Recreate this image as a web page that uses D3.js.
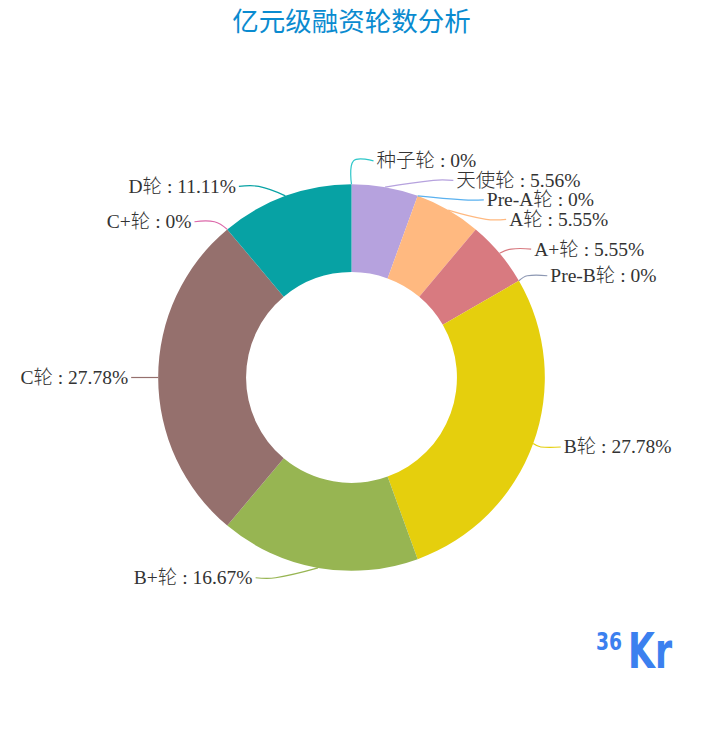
<!DOCTYPE html>
<html><head><meta charset="utf-8">
<script src="https://cdnjs.cloudflare.com/ajax/libs/d3/7.8.5/d3.min.js"></script>
<style>html,body{margin:0;padding:0;background:#fff;} svg{display:block;}</style>
</head><body>
<script>
// ---- data ----
const categories = ["种子轮","天使轮","Pre-A轮","A轮","A+轮","Pre-B轮","B轮","B+轮","C轮","C+轮","D轮"];
const percents = [0, 5.56, 0, 5.55, 5.55, 0, 27.78, 16.67, 27.78, 0, 11.11];
const colors = ['#2ec7c9','#b6a2de','#5ab1ef','#ffb980','#d87a80','#8d98b3','#e5cf0d','#97b552','#95706d','#dc69aa','#07a2a4'];
const titleText = "亿元级融资轮数分析";

// ---- layout ----
const W = 703, H = 755;
const cx = W / 2, cy = H / 2, half = Math.min(W, H) / 2;
const rIn = half * 0.30, rOut = half * 0.55;
const len1 = 10, len2 = 20, labelH = 19.5, fontSize = 19.5;

const svg = d3.select("body").append("svg").attr("width", W).attr("height", H);

svg.append("text")
  .attr("x", cx).attr("y", 19)
  .attr("text-anchor", "middle").attr("dominant-baseline", "central")
  .style("font-family", "'Noto Sans CJK SC', sans-serif")
  .style("font-size", "26.5px")
  .attr("fill", "#0a8bd0")
  .text(titleText);

const data = categories.map((c, i) => ({name: c, v: percents[i], color: colors[i]}));
const pie = d3.pie().sort(null).value(d => d.v).startAngle(0).endAngle(2 * Math.PI);
const arcs = pie(data);
const arcGen = d3.arc().innerRadius(rIn).outerRadius(rOut);

const g = svg.append("g");
g.selectAll("path.slice").data(arcs).join("path")
  .attr("class", "slice")
  .attr("transform", `translate(${cx},${cy})`)
  .attr("d", arcGen)
  .attr("fill", d => d.data.color);

// ---- label layout (echarts-like) ----
const layouts = arcs.map(a => {
  const mid = (a.startAngle + a.endAngle) / 2;
  const dx = Math.sin(mid), dy = -Math.cos(mid);
  const sign = dx < -1e-9 ? -1 : 1;
  const x0 = cx + rOut * dx, y0 = cy + rOut * dy;
  const x1 = cx + (rOut + len1) * dx, y1 = cy + (rOut + len1) * dy;
  const x2 = x1 + sign * len2;
  return {
    a, sign, x: x2 + sign * 5, y: y1, height: labelH, len: len1, len2: len2,
    linePoints: [[x0, y0], [x1, y1], [x2, y1]],
    text: a.data.name + " : " + a.data.v + "%"
  };
});

function adjustSingleSide(list, dir) {
  list.sort((a, b) => a.y - b.y);
  function shiftDown(start, end, delta) {
    for (let j = start; j < end; j++) {
      list[j].y += delta;
      if (j > start && j + 1 < end && list[j + 1].y > list[j].y + list[j].height) {
        shiftUp(j, delta / 2);
        return;
      }
    }
    shiftUp(end - 1, delta / 2);
  }
  function shiftUp(end, delta) {
    for (let j = end; j >= 0; j--) {
      list[j].y -= delta;
      if (j > 0 && list[j].y > list[j - 1].y + list[j - 1].height) break;
    }
  }
  function changeX(lst, isDown) {
    let last = isDown ? Number.MAX_VALUE : 0;
    for (let i = 0; i < lst.length; i++) {
      const deltaY = Math.abs(lst[i].y - cy);
      const L = lst[i].len, L2 = lst[i].len2;
      let deltaX = deltaY < rOut + L
        ? Math.sqrt((rOut + L + L2) * (rOut + L + L2) - deltaY * deltaY)
        : Math.abs(lst[i].x - cx);
      if (isDown && deltaX >= last) deltaX = last - 10;
      if (!isDown && deltaX <= last) deltaX = last + 10;
      lst[i].x = cx + deltaX * dir;
      last = deltaX;
    }
  }
  let lastY = 0;
  const n = list.length;
  for (let i = 0; i < n; i++) {
    const delta = list[i].y - lastY;
    if (delta < 0) shiftDown(i, n, -delta);
    lastY = list[i].y + list[i].height;
  }
  if (H - lastY < 0) shiftUp(n - 1, lastY - H);
  const up = [], down = [];
  list.forEach(l => (l.y >= cy ? down : up).push(l));
  changeX(up, false);
  changeX(down, true);
}
const leftList = layouts.filter(l => l.x < cx);
const rightList = layouts.filter(l => l.x >= cx);
adjustSingleSide(rightList, 1);
adjustSingleSide(leftList, -1);
layouts.forEach(l => {
  const lp = l.linePoints;
  const dist = lp[1][0] - lp[2][0];
  lp[2][0] = l.x < cx ? l.x + 3 : l.x - 3;
  lp[1][1] = lp[2][1] = l.y;
  lp[1][0] = lp[2][0] + dist;
});

// smooth polyline (zrender smoothBezier style)
function smoothPath(pts, smooth) {
  const p = d3.path();
  const cps = [];
  for (let i = 0; i < pts.length; i++) {
    if (i === 0 || i === pts.length - 1) { cps.push(pts[i].slice()); continue; }
    const prev = pts[i - 1], next = pts[i + 1], pt = pts[i];
    const v = [(next[0] - prev[0]) * smooth, (next[1] - prev[1]) * smooth];
    let d0 = Math.hypot(pt[0] - prev[0], pt[1] - prev[1]);
    let d1 = Math.hypot(pt[0] - next[0], pt[1] - next[1]);
    const s = d0 + d1;
    if (s !== 0) { d0 /= s; d1 /= s; }
    cps.push([pt[0] - v[0] * d0, pt[1] - v[1] * d0]);
    cps.push([pt[0] + v[0] * d1, pt[1] + v[1] * d1]);
  }
  p.moveTo(pts[0][0], pts[0][1]);
  for (let i = 0; i < pts.length - 1; i++) {
    const c1 = cps[2 * i], c2 = cps[2 * i + 1], q = pts[i + 1];
    p.bezierCurveTo(c1[0], c1[1], c2[0], c2[1], q[0], q[1]);
  }
  return p.toString();
}

g.selectAll("path.line").data(layouts).join("path")
  .attr("class", "line")
  .attr("d", d => smoothPath(d.linePoints, 0.4))
  .attr("fill", "none")
  .attr("stroke", d => d.a.data.color)
  .attr("stroke-width", 1.2);

g.selectAll("text.lbl").data(layouts).join("text")
  .attr("class", "lbl")
  .attr("x", d => d.x).attr("y", d => d.y)
  .attr("text-anchor", d => d.x < cx ? "end" : "start")
  .attr("dominant-baseline", "central")
  .style("font-family", "'Liberation Serif', 'Noto Sans CJK SC', serif")
  .style("font-size", fontSize + "px")
  .style("font-weight", 300)
  .attr("fill", "#333")
  .text(d => d.text);

// ---- 36Kr watermark ----
const logo = svg.append("g").attr("fill", "#3b80ef")
  .style("font-family", "'DejaVu Sans', sans-serif").style("font-weight", "bold");
logo.append("text").attr("x", 596).attr("y", 650).style("font-size", "24px")
  .attr("textLength", 26).attr("lengthAdjust", "spacingAndGlyphs").text("36");
logo.append("text").attr("x", 628).attr("y", 668).style("font-size", "50px")
  .attr("textLength", 44).attr("lengthAdjust", "spacingAndGlyphs").text("Kr");
</script>
</body></html>
